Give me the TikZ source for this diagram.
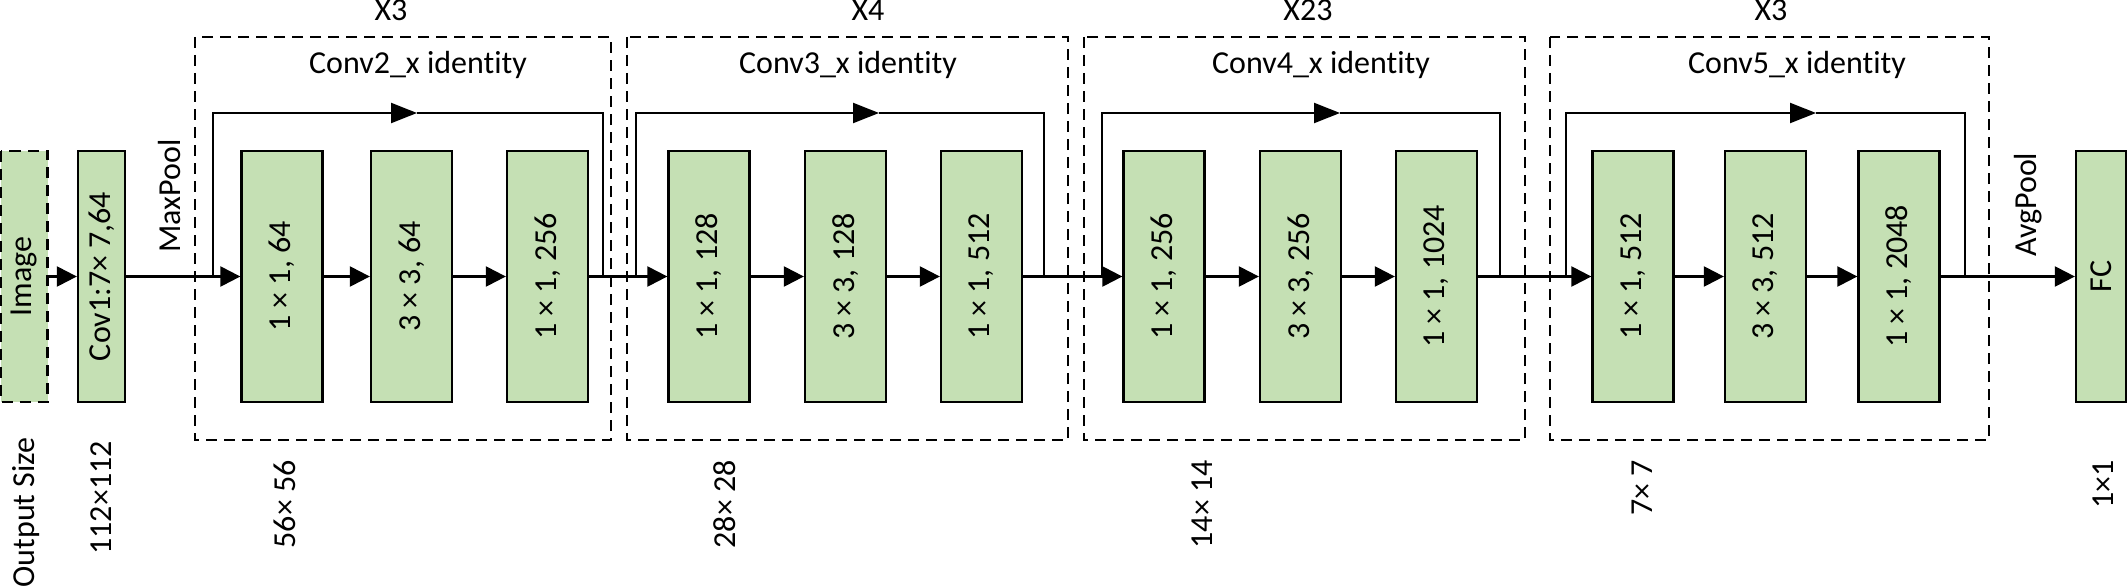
\documentclass[tikz,border=0pt]{standalone}
\usepackage{fontspec}
\setmainfont{Carlito}[Ligatures=NoCommon]
\usetikzlibrary{arrows.meta}
\definecolor{blkgreen}{HTML}{C5E0B4}
\begin{document}
\begin{tikzpicture}[x=1pt,y=-1pt,
  font=\fontsize{32pt}{38pt}\selectfont,
  blk/.style={draw, line width=2.3pt, fill=blkgreen, rotate=90, minimum width=251pt, minimum height=81pt, inner sep=0pt},
  imgbox/.style={blk, dash pattern=on 11pt off 7pt},
  grp/.style={draw, line width=2.3pt, dash pattern=on 11pt off 7pt},
  conn/.style={line width=2.3pt, -{Triangle[length=20pt,width=20pt]}},
  skiparr/.style={line width=2.3pt, -{Triangle[length=26pt,width=20pt]}},
  plain/.style={line width=2.3pt},
  rlab/.style={rotate=90, inner sep=0pt, anchor=base west},
  rlabend/.style={rotate=90, inner sep=0pt, anchor=base east},
  ttl/.style={inner sep=0pt, anchor=base}]
\useasboundingbox (0,0) rectangle (2128,586);

% group boxes
\draw[grp] (195,37) rectangle (611,440);
\draw[grp] (627,37) rectangle (1068,440);
\draw[grp] (1084,37) rectangle (1525,440);
\draw[grp] (1550,37) rectangle (1989,440);

% titles
\node[ttl] (x1) at (391,21) {X3};
\node[ttl] (x2) at (868,21) {X4};
\node[ttl] (x3) at (1308,21) {X23};
\node[ttl] (x4) at (1771,21) {X3};
\node[ttl] (c1) at (418,74) {Conv2\_x identity};
\node[ttl] (c2) at (848,74) {Conv3\_x identity};
\node[ttl] (c3) at (1321,74) {Conv4\_x identity};
\node[ttl] (c4) at (1797,74) {Conv5\_x identity};

% blocks (rotated: minimum height is the horizontal size)
\node[imgbox, minimum height=47pt] (img) at (24,276.5) {Image};
\node[blk, minimum height=47pt] (cov) at (101.5,276.5) {Cov1:7× 7,64};
\node[blk] (b11) at (282,276.5) {1 × 1, 64};
\node[blk] (b12) at (411.5,276.5) {3 × 3, 64};
\node[blk] (b13) at (547.5,276.5) {1 × 1, 256};
\node[blk] (b21) at (709,276.5) {1 × 1, 128};
\node[blk] (b22) at (845.5,276.5) {3 × 3, 128};
\node[blk] (b23) at (981.5,276.5) {1 × 1, 512};
\node[blk] (b31) at (1164,276.5) {1 × 1, 256};
\node[blk] (b32) at (1300.5,276.5) {3 × 3, 256};
\node[blk] (b33) at (1436.5,276.5) {1 × 1, 1024};
\node[blk] (b41) at (1633,276.5) {1 × 1, 512};
\node[blk] (b42) at (1765.5,276.5) {3 × 3, 512};
\node[blk] (b43) at (1899,276.5) {1 × 1, 2048};
\node[blk, minimum height=50pt] (fc) at (2101,276.5) {FC};

% main connectors
\draw[conn] (img) -- (cov);
\draw[conn] (cov) -- (b11);
\draw[conn] (b11) -- (b12);
\draw[conn] (b12) -- (b13);
\draw[conn] (b13) -- (b21);
\draw[conn] (b21) -- (b22);
\draw[conn] (b22) -- (b23);
\draw[conn] (b23) -- (b31);
\draw[conn] (b31) -- (b32);
\draw[conn] (b32) -- (b33);
\draw[conn] (b33) -- (b41);
\draw[conn] (b41) -- (b42);
\draw[conn] (b42) -- (b43);
\draw[conn] (b43) -- (fc);

% skip connections
\coordinate (s1a) at (213,276.5); \coordinate (t1) at (417,113); \coordinate (s1b) at (603,276.5);
\coordinate (s2a) at (636,276.5); \coordinate (t2) at (879,113); \coordinate (s2b) at (1044,276.5);
\coordinate (s3a) at (1102,276.5); \coordinate (t3) at (1340,113); \coordinate (s3b) at (1500,276.5);
\coordinate (s4a) at (1566,276.5); \coordinate (t4) at (1816,113); \coordinate (s4b) at (1965,276.5);
\foreach \i in {1,2,3,4}{
  \draw[skiparr] (s\i a) |- (t\i);
  \draw[plain] (t\i) -| (s\i b);
}

% rotated labels
\node[rlab] (mp) at (180,253) {MaxPool};
\node[rlab] (ap) at (2036,257) {AvgPool};
\node[rlabend] (os) at (34,437) {Output Size};
\node[rlabend] (o1) at (111,441) {112×112};
\node[rlabend] (o2) at (295,460) {56× 56};
\node[rlabend] (o3) at (735,460) {28× 28};
\node[rlabend] (o4) at (1212,460) {14× 14};
\node[rlabend] (o5) at (1652,460) {7× 7};
\node[rlabend] (o6) at (2113,460) {1×1};
\end{tikzpicture}
\end{document}
